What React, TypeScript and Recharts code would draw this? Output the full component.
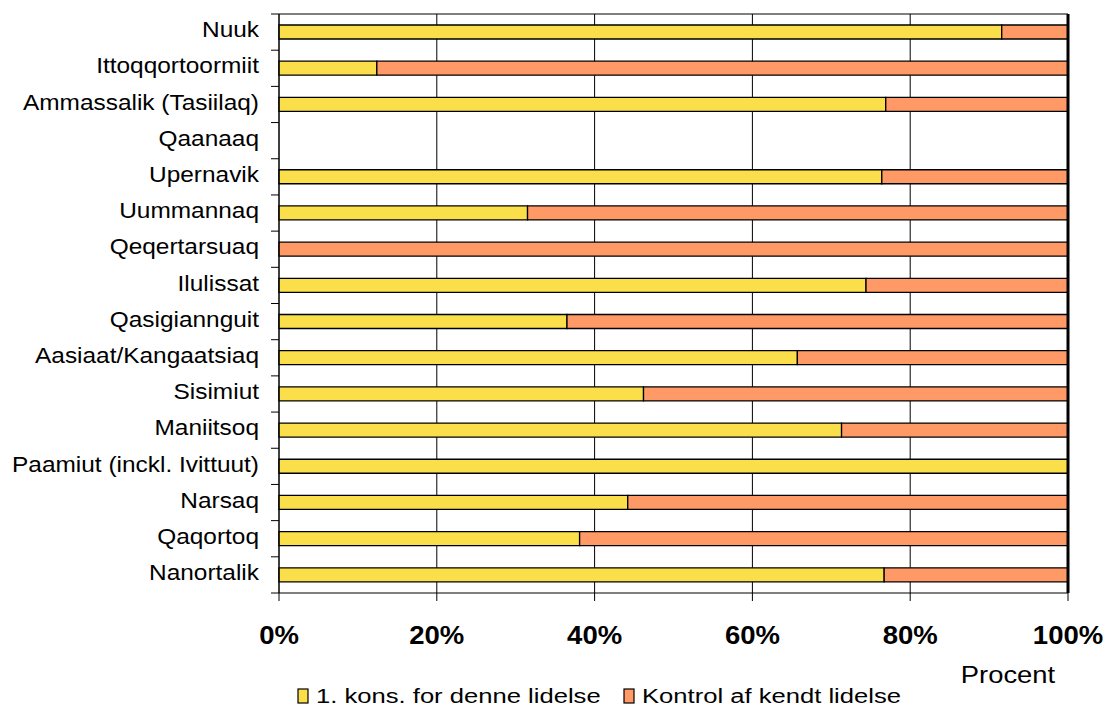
import React from 'react';
import {
  BarChart,
  Bar,
  XAxis,
  YAxis,
  CartesianGrid,
  ReferenceLine,
  Legend,
  Label,
} from 'recharts';

// Health districts, listed top to bottom
const districts = [
  'Nuuk',
  'Ittoqqortoormiit',
  'Ammassalik (Tasiilaq)',
  'Qaanaaq',
  'Upernavik',
  'Uummannaq',
  'Qeqertarsuaq',
  'Ilulissat',
  'Qasigiannguit',
  'Aasiaat/Kangaatsiaq',
  'Sisimiut',
  'Maniitsoq',
  'Paamiut (inckl. Ivittuut)',
  'Narsaq',
  'Qaqortoq',
  'Nanortalik',
];

// Share (%) of contacts that were a first consultation for the condition
const firstConsultation: (number | null)[] = [
  91.6, 12.4, 76.9, null, 76.4, 31.5, 0, 74.4, 36.5, 65.7, 46.2, 71.3, 100, 44.2, 38.1, 76.7,
];

// Share (%) of contacts that were a follow-up of a known condition
const followUp: (number | null)[] = [
  8.4, 87.6, 23.1, null, 23.6, 68.5, 100, 25.6, 63.5, 34.3, 53.8, 28.7, 0, 55.8, 61.9, 23.3,
];

const xTicks = [0, 20, 40, 60, 80, 100];

const seriesNames = ['1. kons. for denne lidelse', 'Kontrol af kendt lidelse'];

const data = districts.map((name, i) => ({
  name,
  first: firstConsultation[i],
  follow: followUp[i],
}));

const W = 1110;
const H = 707;
const MARGIN = { top: 14, right: 42, bottom: 54, left: 0 };
const X_AXIS_H = 60;
const Y_AXIS_W = 279;
const BAND = (H - MARGIN.top - MARGIN.bottom - X_AXIS_H) / districts.length;

const FONT = '"Liberation Sans", Arial, sans-serif';
const YELLOW = '#FADF4B';
const ORANGE = '#FF9966';

const CategoryTick = (props: any) => {
  const { x, y, payload, index } = props;
  const last = index === districts.length - 1;
  return (
    <g>
      <line x1={x - 8} x2={x} y1={y - BAND / 2} y2={y - BAND / 2} stroke="#000" strokeWidth={1} />
      {last && (
        <line x1={x - 8} x2={x} y1={y + BAND / 2} y2={y + BAND / 2} stroke="#000" strokeWidth={1} />
      )}
      <text
        transform={`translate(${x - 20}, ${y + 5.2}) scale(1.11, 1)`}
        textAnchor="end"
        fontFamily={FONT}
        fontSize={22}
        fill="#000"
      >
        {payload.value}
      </text>
    </g>
  );
};

const PercentTick = (props: any) => {
  const { x, y, payload } = props;
  return (
    <text
      transform={`translate(${x}, ${y + 41}) scale(1.1, 1)`}
      textAnchor="middle"
      fontFamily={FONT}
      fontSize={25}
      fontWeight="bold"
      fill="#000"
    >
      {`${payload.value}%`}
    </text>
  );
};

const AxisTitle = (props: any) => {
  const { viewBox } = props;
  const cx = viewBox.x + viewBox.width - 60;
  const by = viewBox.y + 90;
  return (
    <text
      transform={`translate(${cx}, ${by}) scale(1.19, 1)`}
      textAnchor="middle"
      fontFamily={FONT}
      fontSize={23}
      fill="#000"
    >
      Procent
    </text>
  );
};

const LegendContent = (props: any) => {
  const items = props.payload || [];
  const starts = [298, 624];
  return (
    <svg width={W} height={27} style={{ display: 'block' }}>
      {items.map((it: any, i: number) => (
        <g key={i}>
          <rect x={starts[i]} y={9} width={10} height={14} fill={it.color} stroke="#000" strokeWidth={1.2} />
          <text
            transform={`translate(${starts[i] + 18}, ${23}) scale(1.22, 1)`}
            fontFamily={FONT}
            fontSize={21}
            fill="#000"
          >
            {it.value}
          </text>
        </g>
      ))}
    </svg>
  );
};

export default function App() {
  return (
    <div style={{ position: 'absolute', left: 0, top: 0, width: W, height: H, background: '#fff' }}>
      <BarChart width={W} height={H} data={data} layout="vertical" margin={MARGIN} barSize={14}>
        <CartesianGrid
          stroke="#000"
          strokeWidth={1}
          vertical
          horizontal
          horizontalPoints={[MARGIN.top]}
        />
        <XAxis
          type="number"
          domain={[0, 100]}
          ticks={xTicks}
          interval={0}
          height={X_AXIS_H}
          axisLine={{ stroke: '#000', strokeWidth: 1 }}
          tickLine={{ stroke: '#000', strokeWidth: 1 }}
          tickSize={8}
          tick={<PercentTick />}
        >
          <Label content={<AxisTitle />} />
        </XAxis>
        <YAxis
          type="category"
          dataKey="name"
          width={Y_AXIS_W}
          interval={0}
          axisLine={{ stroke: '#000', strokeWidth: 1 }}
          tickLine={false}
          tickSize={0}
          tickMargin={0}
          tick={<CategoryTick />}
        />
        <ReferenceLine x={100} stroke="#000" strokeWidth={3} />
        <Legend
          layout="horizontal"
          verticalAlign="middle"
          align="center"
          wrapperStyle={{ top: 680, left: 0, width: W }}
          content={<LegendContent />}
        />
        <Bar
          dataKey="first"
          name={seriesNames[0]}
          stackId="a"
          fill={YELLOW}
          stroke="#000"
          strokeWidth={1.3}
          isAnimationActive={false}
        />
        <Bar
          dataKey="follow"
          name={seriesNames[1]}
          stackId="a"
          fill={ORANGE}
          stroke="#000"
          strokeWidth={1.3}
          isAnimationActive={false}
        />
      </BarChart>
    </div>
  );
}
